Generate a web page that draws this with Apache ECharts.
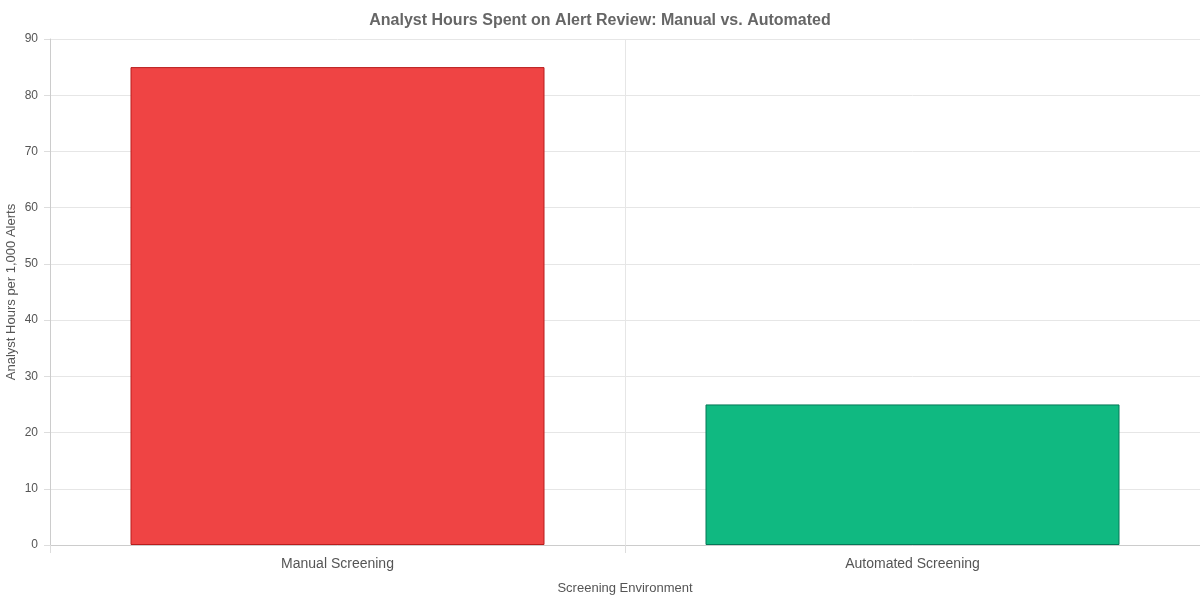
<!DOCTYPE html>
<html>
<head>
<meta charset="utf-8">
<script src="https://cdn.jsdelivr.net/npm/echarts@6/dist/echarts.min.js"></script>
<style>
  html, body { margin: 0; padding: 0; background: #fff; }
  #chart { width: 1200px; height: 600px; }
</style>
</head>
<body>
<div id="chart"></div>
<script>
  // 数据
  var categories = ['Manual Screening', 'Automated Screening'];
  var hours = [85, 25];
  var barColors = ['#EF4444', '#10B981'];
  var borderColors = ['#B91C1C', '#047857'];

  var myChart = echarts.init(document.getElementById('chart'));
  var option;

  option = {
    backgroundColor: '#fff',
    title: {
      text: 'Analyst Hours Spent on Alert Review: Manual vs. Automated',
      left: 'center',
      top: 8,
      textStyle: {
        color: '#666',
        fontSize: 16,
        fontWeight: 'bold',
        fontFamily: 'Helvetica, Arial, sans-serif'
      }
    },
    grid: {
      left: 50,
      right: 0,
      top: 39,
      bottom: 55,
      containLabel: false,
      outerBoundsMode: 'none'
    },
    xAxis: {
      type: 'category',
      data: categories,
      name: 'Screening Environment',
      nameLocation: 'middle',
      nameGap: 37,
      nameMoveOverlap: false,
      nameTextStyle: { color: '#555', fontSize: 13 },
      axisLine: { show: true, lineStyle: { color: '#ccc' } },
      axisTick: { show: true, length: 8, lineStyle: { color: '#ddd' } },
      axisLabel: { color: '#555', fontSize: 14, margin: 12 },
      splitLine: { show: true, lineStyle: { color: '#e6e6e6' } }
    },
    yAxis: {
      type: 'value',
      min: 0,
      max: 90,
      interval: 10,
      name: 'Analyst Hours per 1,000 Alerts',
      nameLocation: 'middle',
      nameGap: 32,
      nameMoveOverlap: false,
      nameTextStyle: { color: '#555', fontSize: 13 },
      axisLine: { show: true, lineStyle: { color: '#ccc' } },
      axisTick: { show: true, length: 6, lineStyle: { color: '#ddd' } },
      axisLabel: { color: '#555', fontSize: 12, margin: 12 },
      splitLine: { show: true, lineStyle: { color: '#e6e6e6' } }
    },
    series: [
      {
        name: 'Analyst Hours',
        type: 'bar',
        barCategoryGap: '28%',
        data: hours.map(function (v, i) {
          return {
            value: v,
            itemStyle: {
              color: barColors[i],
              borderColor: borderColors[i],
              borderWidth: 1
            }
          };
        })
      }
    ]
  };

  option && myChart.setOption(option);
</script>
</body>
</html>
